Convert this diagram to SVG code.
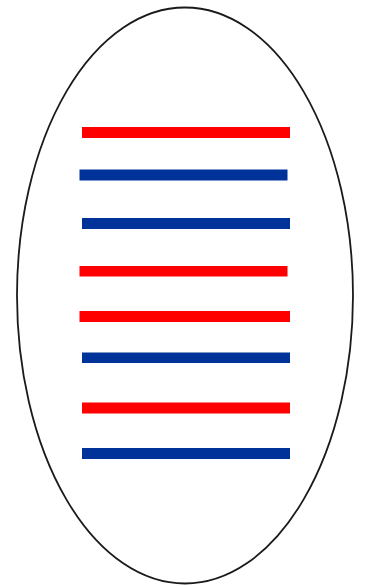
<svg xmlns="http://www.w3.org/2000/svg" width="366" height="586" viewBox="0 0 366 586">
<style>
.r{fill:#FF0000}
.b{fill:#003399}
</style>
<rect width="366" height="586" fill="#fff"/>
<ellipse cx="185" cy="295.5" rx="168" ry="288" fill="none" stroke="#1a1a1a" stroke-width="1.8"/>
<rect class="r" x="82" y="127" width="208" height="11"/>
<rect class="b" x="79.5" y="169.5" width="208" height="11"/>
<rect class="b" x="82" y="218" width="208" height="11"/>
<rect class="r" x="79.5" y="266" width="208" height="10.5"/>
<rect class="r" x="79.5" y="311" width="210.5" height="11"/>
<rect class="b" x="82" y="352.5" width="208" height="10.5"/>
<rect class="r" x="82" y="402.5" width="208" height="11"/>
<rect class="b" x="82" y="448" width="208" height="11"/>
</svg>
